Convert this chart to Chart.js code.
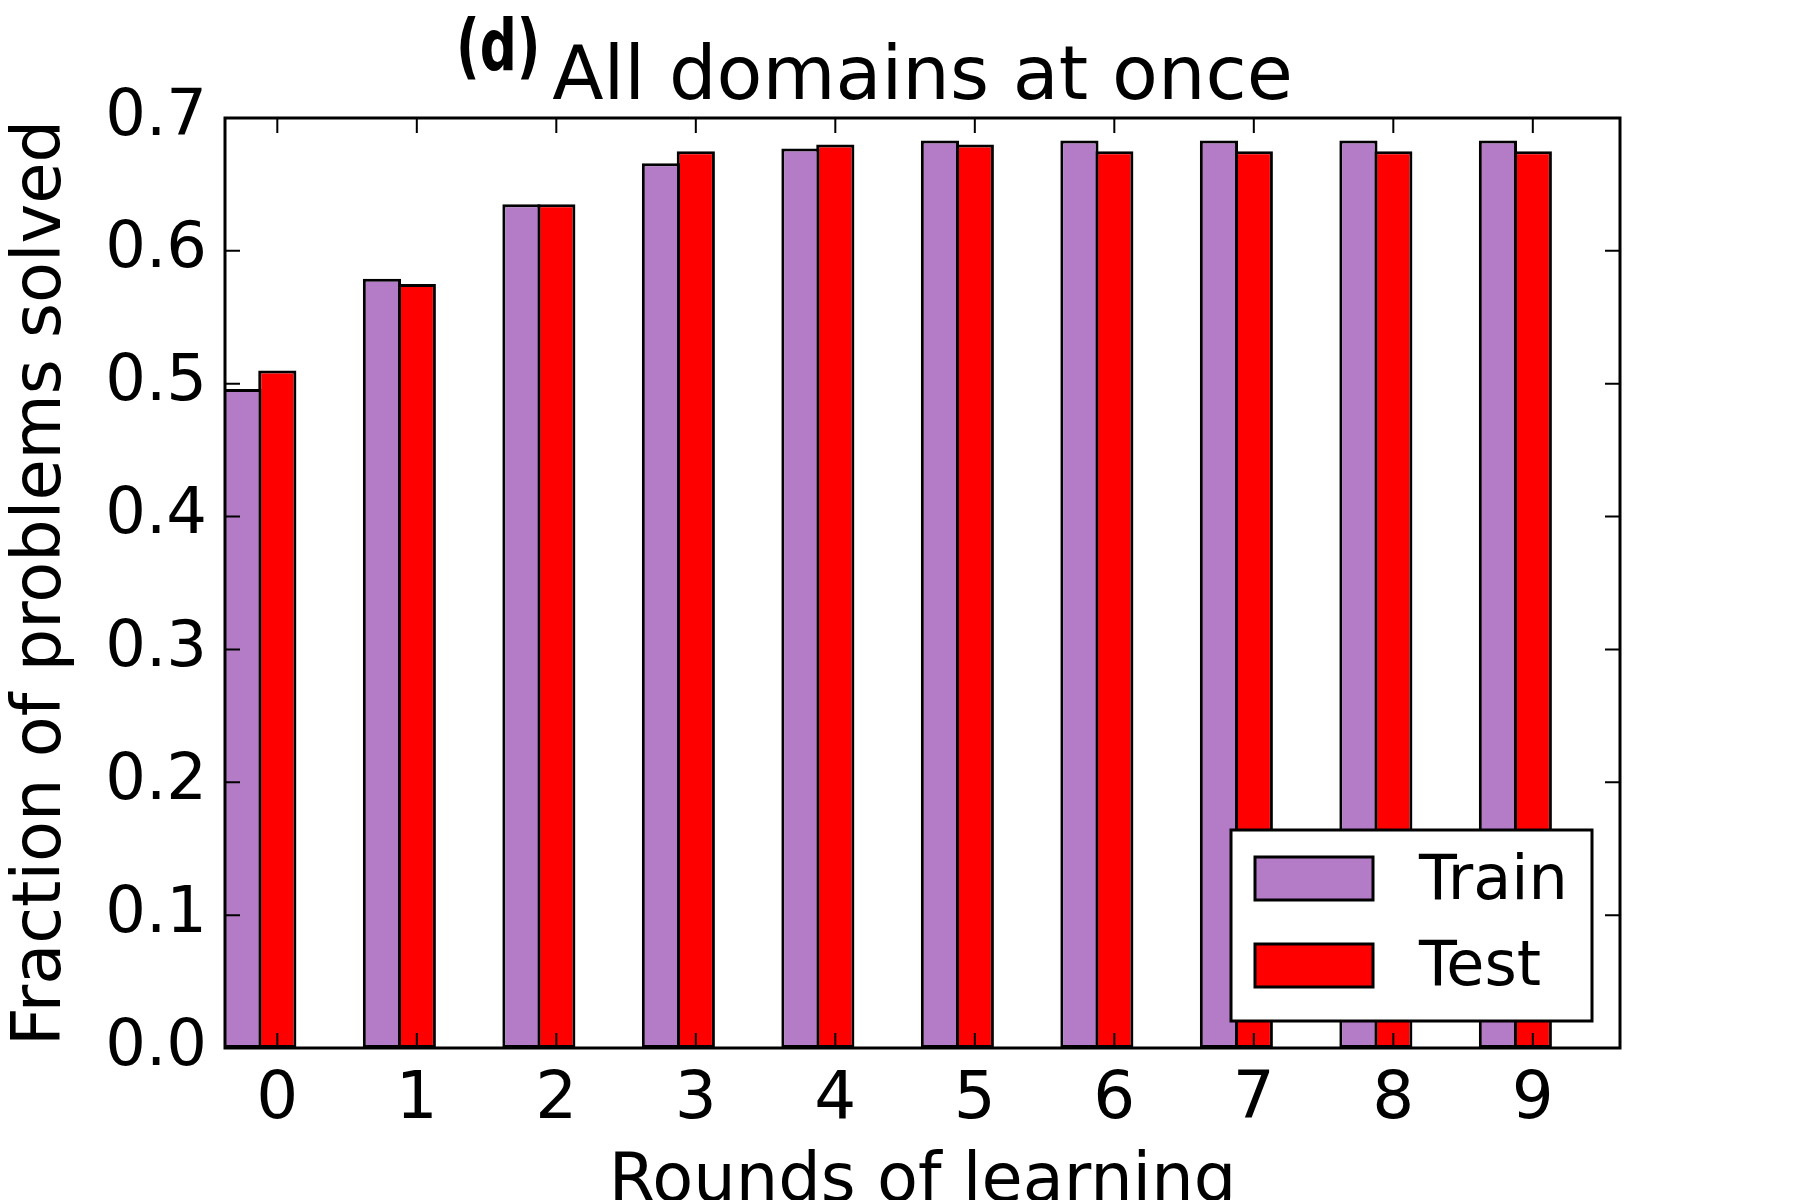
<!DOCTYPE html>
<html>
<head>
<meta charset="utf-8">
<script src="https://cdn.jsdelivr.net/npm/chart.js@4.4.1/dist/chart.umd.min.js"></script>
<style>
  html, body { margin: 0; padding: 0; background: #fff; }
</style>
</head>
<body>
<canvas id="chart" width="1800" height="1200"></canvas>
<script>
// data
const rounds = [0, 1, 2, 3, 4, 5, 6, 7, 8, 9]
const roundLabels = ["0", "1", "2", "3", "4", "5", "6", "7", "8", "9"]
const trainSolved = [0.496, 0.579, 0.635, 0.666, 0.677, 0.683, 0.683, 0.683, 0.683, 0.683]
const testSolved = [0.510, 0.575, 0.635, 0.675, 0.680, 0.680, 0.675, 0.675, 0.675, 0.675]
const yTicks = [0, 0.1, 0.2, 0.3, 0.4, 0.5, 0.6, 0.7]
const yTickLabels = ["0.0", "0.1", "0.2", "0.3", "0.4", "0.5", "0.6", "0.7"]

const purple = "#b47cc7"
const red = "#ff0000"

Chart.defaults.font.family = "DejaVu Sans"
Chart.defaults.color = "#000"

// matplotlib-like frame, inward ticks, legend box and title
const framePlugin = {
    id: "framePlugin",
    afterDatasetsDraw(chart) {
        const { ctx, chartArea: a, scales: { x, y } } = chart
        ctx.save()
        ctx.strokeStyle = "#000"
        ctx.lineWidth = 2
        const tick = 15
        ctx.beginPath()
        for (const t of x.ticks) {
            const px = x.getPixelForValue(t.value)
            ctx.moveTo(px, a.bottom); ctx.lineTo(px, a.bottom - tick)
            ctx.moveTo(px, a.top); ctx.lineTo(px, a.top + tick)
        }
        for (const t of y.ticks) {
            const py = y.getPixelForValue(t.value)
            ctx.moveTo(a.left, py); ctx.lineTo(a.left + tick, py)
            ctx.moveTo(a.right, py); ctx.lineTo(a.right - tick, py)
        }
        ctx.stroke()

        ctx.lineWidth = 3
        ctx.strokeRect(a.left, a.top, a.right - a.left, a.bottom - a.top)

        // legend
        const lx = a.right - 389, ly = a.top + 712
        ctx.fillStyle = "#fff"
        ctx.fillRect(lx, ly, 361, 191)
        ctx.strokeRect(lx, ly, 361, 191)
        ctx.font = "62px 'DejaVu Sans'"
        ctx.textBaseline = "alphabetic"
        ctx.textAlign = "left"
        chart.data.datasets.forEach((ds, i) => {
            const sy = ly + 27 + i * 87
            ctx.fillStyle = ds.backgroundColor
            ctx.fillRect(lx + 24, sy, 118, 43)
            ctx.lineWidth = 3
            ctx.strokeRect(lx + 24, sy, 118, 43)
            ctx.fillStyle = "#000"
            ctx.fillText(ds.label, lx + 188, ly + 69 + i * 86)
        })
        ctx.restore()
    },
    afterDraw(chart) {
        const { ctx, chartArea: a } = chart
        ctx.save()
        ctx.fillStyle = "#000"
        ctx.textBaseline = "alphabetic"
        ctx.textAlign = "center"
        ctx.font = "75px 'DejaVu Sans'"
        ctx.fillText("All domains at once", (a.left + a.right) / 2, 99)

        ctx.translate(456, 70)
        ctx.scale(0.72, 1)
        ctx.textAlign = "left"
        ctx.font = "bold 72px 'DejaVu Sans'"
        ctx.fillText("(d)", 0, 0)
        ctx.restore()
    }
}

const chart = new Chart(document.querySelector("#chart"), {
    type: "bar",
    data: {
        datasets: [
            {
                label: "Train",
                data: rounds.map((r, i) => ({ x: r - 0.25, y: trainSolved[i] })),
                backgroundColor: purple,
                borderColor: "#000",
                borderWidth: 3,
                borderSkipped: false,
                grouped: false,
                barPercentage: 1.095,
                categoryPercentage: 1
            },
            {
                label: "Test",
                data: rounds.map((r, i) => ({ x: r, y: testSolved[i] })),
                backgroundColor: red,
                borderColor: "#000",
                borderWidth: 3,
                borderSkipped: false,
                grouped: false,
                barPercentage: 1.095,
                categoryPercentage: 1
            }
        ]
    },
    options: {
        responsive: false,
        animation: false,
        devicePixelRatio: 1,
        layout: { padding: { top: 118, right: 180, left: 0, bottom: 0 } },
        plugins: {
            legend: { display: false },
            title: { display: false },
            tooltip: { enabled: false }
        },
        scales: {
            x: {
                type: "linear",
                offset: false,
                min: -0.375,
                max: 9.625,
                grid: { display: false, offset: false },
                border: { display: false },
                afterBuildTicks: (s) => { s.ticks = rounds.map((r) => ({ value: r })) },
                afterFit: (s) => { s.height = 152 },
                ticks: {
                    font: { size: 66 },
                    padding: 5,
                    autoSkip: false,
                    maxRotation: 0,
                    callback: (v) => roundLabels[rounds.indexOf(v)]
                },
                title: {
                    display: true,
                    text: "Rounds of learning",
                    font: { size: 67, lineHeight: 0.5 },
                    padding: 0
                }
            },
            y: {
                min: 0,
                max: 0.7,
                grid: { display: false },
                border: { display: false },
                afterBuildTicks: (s) => { s.ticks = yTicks.map((v) => ({ value: v })) },
                afterFit: (s) => { s.width = 225 },
                ticks: {
                    font: { size: 64 },
                    padding: 10,
                    callback: (v) => yTickLabels[yTicks.indexOf(v)]
                },
                title: {
                    display: true,
                    text: "Fraction of problems solved",
                    font: { size: 67 },
                    padding: { top: 2, bottom: 0 }
                }
            }
        }
    },
    plugins: [framePlugin]
})
</script>
</body>
</html>
